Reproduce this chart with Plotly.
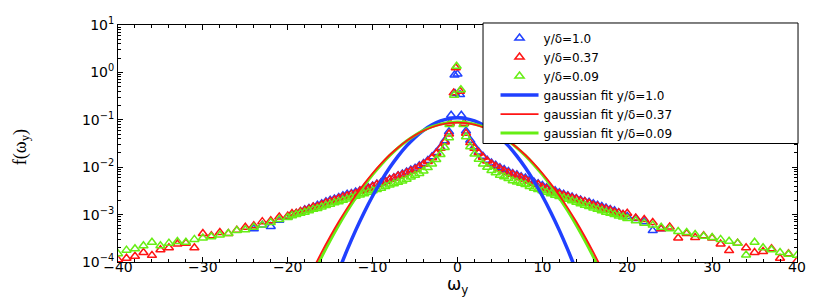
import plotly.graph_objects as go

# ---------------- data ----------------
OMEGA_OUTER_L = [-40, -39, -38, -37, -36, -35, -34, -33, -32, -31, -30, -29, -28, -27, -26,
                 -25, -24, -23, -22, -21, -20]
OMEGA_INNER_L = [-19.5, -19, -18.5, -18, -17.5, -17, -16.5, -16, -15.5, -15, -14.5, -14,
                 -13.5, -13, -12.5, -12, -11.5, -11, -10.5, -10, -9.5, -9, -8.5, -8, -7.5,
                 -7, -6.5, -6, -5.5, -5, -4.5, -4, -3.5, -3, -2.5, -2, -1.5, -1]
OMEGA_INNER_R = [1, 1.5, 2, 2.5, 3, 3.5, 4, 4.5, 5, 5.5, 6, 6.5, 7, 7.5, 8, 8.5, 9, 9.5, 10,
                 10.5, 11, 11.5, 12, 12.5, 13, 13.5, 14, 14.5, 15, 15.5, 16, 16.5, 17, 17.5,
                 18, 18.5, 19, 19.5]
OMEGA_OUTER_R = [20, 21, 22, 23, 24, 25, 26, 27, 28, 29, 30, 31, 32, 33, 34, 35, 36, 37, 38,
                 39, 40]
OMEGA_BLUE_OUTER_L = [-24, -23, -22, -21, -20]
OMEGA_BLUE_OUTER_R = [20, 21, 22, 23, 24]

# y/delta = 1.0 (blue)
BLUE_CORE_X = [-0.75, -0.35, 0.0, -0.3, 0.3, 0.45]
BLUE_CORE_Y = [0.125, 0.88, 0.92, 0.36, 0.34, 0.125]
BLUE_OUTER_L = [5.0e-4, 6.0e-4, 5.6e-4, 7.6e-4, 8.9e-4]
BLUE_INNER_L = [1.0e-3, 1.05e-3, 1.15e-3, 1.26e-3, 1.35e-3, 1.45e-3, 1.58e-3, 1.7e-3, 1.86e-3,
                2.0e-3, 2.14e-3, 2.3e-3, 2.5e-3, 2.7e-3, 2.8e-3, 3.0e-3, 3.2e-3, 3.5e-3,
                3.7e-3, 4.0e-3, 4.4e-3, 4.7e-3, 5.1e-3, 5.6e-3, 6.0e-3, 6.6e-3, 7.2e-3,
                7.9e-3, 8.7e-3, 9.5e-3, 1.07e-2, 1.2e-2, 1.38e-2, 1.66e-2, 2.04e-2, 2.6e-2,
                3.6e-2, 5.6e-2]
BLUE_INNER_R = [5.8e-2, 3.7e-2, 2.7e-2, 2.1e-2, 1.7e-2, 1.41e-2, 1.23e-2, 1.1e-2, 9.8e-3,
                8.9e-3, 8.1e-3, 7.4e-3, 6.9e-3, 6.3e-3, 5.9e-3, 5.4e-3, 4.9e-3, 4.5e-3,
                4.1e-3, 3.7e-3, 3.4e-3, 3.2e-3, 2.9e-3, 2.7e-3, 2.5e-3, 2.34e-3, 2.2e-3,
                2.04e-3, 1.9e-3, 1.82e-3, 1.7e-3, 1.58e-3, 1.48e-3, 1.38e-3, 1.29e-3, 1.2e-3,
                1.1e-3, 1.0e-3]
BLUE_OUTER_R = [9.1e-4, 8.3e-4, 7.1e-4, 4.6e-4, 5.0e-4]

# y/delta = 0.37 (red)
RED_CORE_X = [-0.9, -0.2, -0.45, 0.3, 0.8]
RED_CORE_Y = [0.085, 1.25, 0.37, 0.40, 0.085]
RED_OUTER_L = [1.12e-4, 1.2e-4, 1.32e-4, 1.58e-4, 1.38e-4, 1.82e-4, 2.0e-4, 2.4e-4, 2.5e-4,
               2.0e-4, 4.0e-4, 3.6e-4, 4.2e-4, 4.0e-4, 4.7e-4, 5.4e-4, 5.8e-4, 7.1e-4,
               7.4e-4, 8.9e-4, 9.3e-4]
RED_INNER_L = [1.05e-3, 1.07e-3, 1.17e-3, 1.23e-3, 1.32e-3, 1.45e-3, 1.48e-3, 1.62e-3, 1.78e-3,
               1.9e-3, 2.04e-3, 2.19e-3, 2.34e-3, 2.5e-3, 2.7e-3, 2.8e-3, 3.1e-3, 3.3e-3,
               3.55e-3, 3.9e-3, 4.3e-3, 4.7e-3, 5.0e-3, 5.5e-3, 5.9e-3, 6.5e-3, 6.9e-3,
               7.6e-3, 8.3e-3, 9.1e-3, 1.02e-2, 1.15e-2, 1.32e-2, 1.58e-2, 1.95e-2, 2.5e-2,
               3.4e-2, 5.0e-2]
RED_INNER_R = [5.2e-2, 3.3e-2, 2.5e-2, 2.0e-2, 1.62e-2, 1.35e-2, 1.17e-2, 1.05e-2, 9.3e-3,
               8.3e-3, 7.6e-3, 7.1e-3, 6.5e-3, 6.0e-3, 5.5e-3, 5.1e-3, 4.6e-3, 4.3e-3,
               3.8e-3, 3.5e-3, 3.2e-3, 2.95e-3, 2.75e-3, 2.57e-3, 2.4e-3, 2.24e-3, 2.14e-3,
               1.95e-3, 1.86e-3, 1.74e-3, 1.58e-3, 1.51e-3, 1.38e-3, 1.32e-3, 1.23e-3,
               1.12e-3, 1.1e-3, 1.0e-3]
RED_OUTER_R = [1.07e-3, 8.5e-4, 7.9e-4, 6.8e-4, 5.0e-4, 5.5e-4, 3.2e-4, 4.0e-4, 3.3e-4,
               3.6e-4, 3.2e-4, 2.4e-4, 1.74e-4, 2.5e-4, 2.0e-4, 1.58e-4, 1.66e-4, 1.9e-4,
               1.2e-4, 1.5e-4, 1.05e-4]

# y/delta = 0.09 (green)
GREEN_CORE_X = [-0.95, -0.1, -0.4, 0.4, 0.7]
GREEN_CORE_Y = [0.08, 1.35, 0.33, 0.43, 0.08]
GREEN_OUTER_L = [1.5e-4, 1.78e-4, 1.9e-4, 2.2e-4, 2.6e-4, 2.2e-4, 2.5e-4, 2.7e-4, 2.6e-4,
                 3.0e-4, 3.2e-4, 3.4e-4, 3.7e-4, 4.0e-4, 4.6e-4, 4.8e-4, 5.4e-4, 6.0e-4,
                 6.8e-4, 7.9e-4, 8.7e-4]
GREEN_INNER_L = [9.5e-4, 1.0e-3, 1.07e-3, 1.12e-3, 1.2e-3, 1.29e-3, 1.35e-3, 1.45e-3, 1.55e-3,
                 1.66e-3, 1.78e-3, 1.86e-3, 2.0e-3, 2.14e-3, 2.3e-3, 2.45e-3, 2.6e-3, 2.75e-3,
                 2.95e-3, 3.2e-3, 3.4e-3, 3.6e-3, 3.9e-3, 4.2e-3, 4.5e-3, 4.8e-3, 5.1e-3,
                 5.6e-3, 6.2e-3, 6.8e-3, 7.4e-3, 8.3e-3, 9.8e-3, 1.17e-2, 1.45e-2, 1.86e-2,
                 2.6e-2, 4.2e-2]
GREEN_INNER_R = [4.4e-2, 2.7e-2, 1.9e-2, 1.48e-2, 1.17e-2, 1.0e-2, 8.5e-3, 7.6e-3, 6.8e-3,
                 6.3e-3, 5.8e-3, 5.2e-3, 4.9e-3, 4.6e-3, 4.3e-3, 3.9e-3, 3.6e-3, 3.4e-3,
                 3.2e-3, 2.95e-3, 2.75e-3, 2.57e-3, 2.4e-3, 2.24e-3, 2.1e-3, 1.95e-3, 1.82e-3,
                 1.7e-3, 1.58e-3, 1.48e-3, 1.38e-3, 1.29e-3, 1.2e-3, 1.12e-3, 1.07e-3, 1.0e-3,
                 9.3e-4, 8.9e-4]
GREEN_OUTER_R = [8.3e-4, 7.4e-4, 6.6e-4, 6.0e-4, 5.4e-4, 5.0e-4, 4.4e-4, 4.2e-4, 3.8e-4,
                 3.5e-4, 3.3e-4, 3.0e-4, 2.75e-4, 2.5e-4, 1.41e-4, 2.6e-4, 2.0e-4, 1.82e-4,
                 1.58e-4, 1.45e-4, 1.38e-4]

# gaussian fits
FIT_X_BLUE = [-14, -13, -12, -11, -10, -9, -8, -7, -6, -5, -4, -3, -2, -1, 0,
              1, 2, 3, 4, 5, 6, 7, 8, 9, 10, 11, 12, 13, 14]
FIT_Y_BLUE = [6.48e-5, 1.80e-4, 4.65e-4, 1.11e-3, 2.47e-3, 5.08e-3, 9.7e-3, 1.71e-2, 2.81e-2,
              4.26e-2, 6.0e-2, 7.82e-2, 9.45e-2, 0.106, 0.11,
              0.106, 9.45e-2, 7.82e-2, 6.0e-2, 4.26e-2, 2.81e-2, 1.71e-2, 9.7e-3, 5.08e-3,
              2.47e-3, 1.11e-3, 4.65e-4, 1.80e-4, 6.48e-5]
FIT_X_RG = [-17, -16, -15, -14, -13, -12, -11, -10, -9, -8, -7, -6, -5, -4, -3, -2, -1, 0,
            1, 2, 3, 4, 5, 6, 7, 8, 9, 10, 11, 12, 13, 14, 15, 16, 17]
FIT_Y_RED = [7.17e-5, 1.61e-4, 3.45e-4, 7.05e-4, 1.37e-3, 2.53e-3, 4.45e-3, 7.45e-3, 1.19e-2,
             1.81e-2, 2.61e-2, 3.59e-2, 4.71e-2, 5.87e-2, 6.97e-2, 7.89e-2, 8.49e-2, 8.7e-2,
             8.49e-2, 7.89e-2, 6.97e-2, 5.87e-2, 4.71e-2, 3.59e-2, 2.61e-2, 1.81e-2, 1.19e-2,
             7.45e-3, 4.45e-3, 2.53e-3, 1.37e-3, 7.05e-4, 3.45e-4, 1.61e-4, 7.17e-5]
FIT_Y_GREEN = [5.52e-5, 1.29e-4, 2.84e-4, 5.97e-4, 1.19e-3, 2.26e-3, 4.07e-3, 6.97e-3, 1.13e-2,
               1.75e-2, 2.57e-2, 3.58e-2, 4.74e-2, 5.98e-2, 7.15e-2, 8.12e-2, 8.77e-2, 9.0e-2,
               8.77e-2, 8.12e-2, 7.15e-2, 5.98e-2, 4.74e-2, 3.58e-2, 2.57e-2, 1.75e-2, 1.13e-2,
               6.97e-3, 4.07e-3, 2.26e-3, 1.19e-3, 5.97e-4, 2.84e-4, 1.29e-4, 5.52e-5]

Y_TICK_VALS = [1e-4, 1e-3, 1e-2, 1e-1, 1, 10]
Y_TICK_TEXT = ["10<sup>−4</sup>", "10<sup>−3</sup>", "10<sup>−2</sup>", "10<sup>−1</sup>",
               "10<sup>0</sup>", "10<sup>1</sup>"]

LABELS = ["y/δ=1.0", "y/δ=0.37", "y/δ=0.09"]
COLORS = ["#2040ff", "#ff1414", "#66ee14"]
X_TITLE = "ω<sub>y</sub>"
Y_TITLE = "f(ω<sub>y</sub>)"

# ---------------- figure ----------------
FONT = "DejaVu Sans, Arial, sans-serif"
fig = go.Figure()

series = [
    (OMEGA_BLUE_OUTER_L + OMEGA_INNER_L + BLUE_CORE_X + OMEGA_INNER_R + OMEGA_BLUE_OUTER_R,
     BLUE_OUTER_L + BLUE_INNER_L + BLUE_CORE_Y + BLUE_INNER_R + BLUE_OUTER_R),
    (OMEGA_OUTER_L + OMEGA_INNER_L + RED_CORE_X + OMEGA_INNER_R + OMEGA_OUTER_R,
     RED_OUTER_L + RED_INNER_L + RED_CORE_Y + RED_INNER_R + RED_OUTER_R),
    (OMEGA_OUTER_L + OMEGA_INNER_L + GREEN_CORE_X + OMEGA_INNER_R + OMEGA_OUTER_R,
     GREEN_OUTER_L + GREEN_INNER_L + GREEN_CORE_Y + GREEN_INNER_R + GREEN_OUTER_R),
]
for i, ((xs, ys), lab, col) in enumerate(zip(series, LABELS, COLORS)):
    fig.add_trace(go.Scatter(
        x=xs, y=ys, mode="markers", name=lab, legendrank=i + 1,
        marker=dict(symbol="triangle-up-open", size=8, color=col, line=dict(width=1.5)),
    ))

fits = [(FIT_X_BLUE, FIT_Y_BLUE, 3.5, 0), (FIT_X_RG, FIT_Y_GREEN, 3, 2),
        (FIT_X_RG, FIT_Y_RED, 1.8, 1)]
for fx, fy, w, k in fits:
    fig.add_trace(go.Scatter(
        x=fx, y=fy, mode="lines", name="gaussian fit " + LABELS[k], legendrank=4 + k,
        line=dict(color=COLORS[k], width=w, shape="spline"),
    ))

axis_common = dict(
    showline=True, linecolor="black", linewidth=1, mirror="allticks",
    ticks="inside", ticklen=5, tickcolor="black", showgrid=False, zeroline=False,
    tickfont=dict(family=FONT, size=14, color="black"),
)

fig.update_xaxes(
    range=[-40, 40], dtick=10, tick0=0, ticklabelstandoff=-8,
    minor=dict(ticks="inside", dtick=2, ticklen=3, tickcolor="black"),
    **axis_common,
)
fig.update_yaxes(
    type="log", range=[-4, 1], tickvals=Y_TICK_VALS, ticktext=Y_TICK_TEXT,
    minor=dict(ticks="inside", dtick="D1", ticklen=3, tickcolor="black"),
    **axis_common,
)

# axis titles
fig.add_annotation(text=X_TITLE, xref="paper", yref="paper", x=0.5, y=-0.042,
                   xanchor="center", yanchor="top", showarrow=False,
                   font=dict(family=FONT, size=17, color="black"))
fig.add_annotation(text=Y_TITLE, xref="paper", yref="paper", x=-0.143, y=0.484,
                   xanchor="center", yanchor="middle", showarrow=False, textangle=-90,
                   font=dict(family="Liberation Serif, serif", size=18, color="black"))

# legend frame (wide box as in the reference); legend itself drawn on top
fig.add_shape(type="rect", xref="paper", yref="paper", x0=0.5376, x1=1.0015,
              y0=0.5, y1=1.0085, layer="above",
              line=dict(color="black", width=1), fillcolor="white")

# the page body has an 8px margin: the figure is sized/offset to compensate
fig.update_layout(
    width=822, height=292,
    margin=dict(l=110, r=33, t=17, b=38, autoexpand=False),
    plot_bgcolor="white", paper_bgcolor="white",
    font=dict(family=FONT, color="black"),
    legend=dict(
        x=0.556, y=1.006, xanchor="left", yanchor="top",
        bgcolor="rgba(0,0,0,0)", borderwidth=0, itemwidth=38,
        font=dict(family=FONT, size=12, color="black"),
        tracegroupgap=0, traceorder="normal",
    ),
    showlegend=True,
)

fig.write_html("out.html")
